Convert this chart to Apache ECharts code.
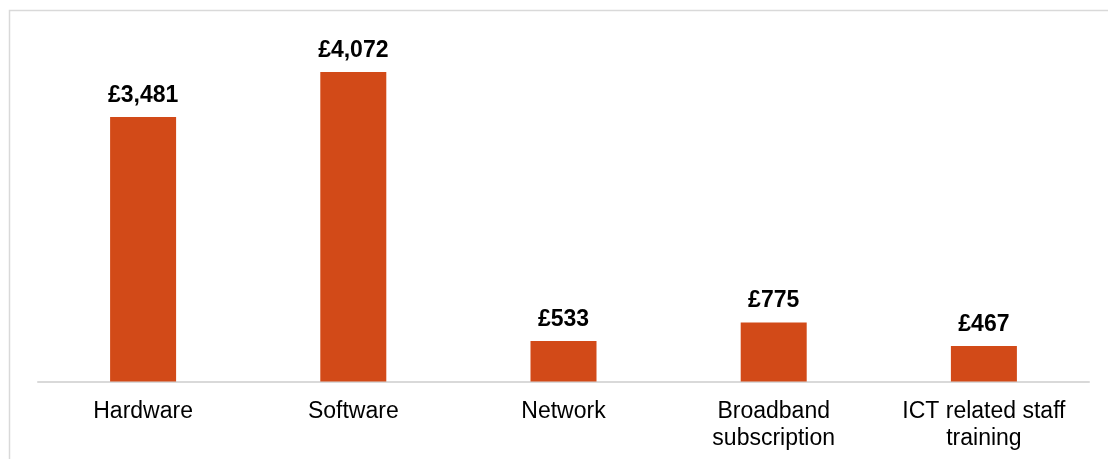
<!DOCTYPE html>
<html>
<head>
<meta charset="utf-8">
<script src="https://cdn.jsdelivr.net/npm/echarts@6/dist/echarts.min.js"></script>
<style>
  * { margin: 0; padding: 0; }
  body { background: #fff; }
  #chart { width: 1108px; height: 459px; }
</style>
</head>
<body>
<div id="chart"></div>
<script>
// categories and spend values (£)
var categories = ['Hardware', 'Software', 'Network', 'Broadband\nsubscription', 'ICT related staff\ntraining'];
var spend = [3481, 4072, 533, 775, 467];

var chart = echarts.init(document.getElementById('chart'));

chart.setOption({
  animation: false,
  backgroundColor: '#fff',
  // light frame round the chart area (only top and left show)
  graphic: [{
    type: 'rect',
    shape: { x: 9.5, y: 10.5, width: 1200, height: 600 },
    style: { fill: 'none', stroke: '#d9d9d9', lineWidth: 1.5 },
    silent: true
  }],
  grid: { left: 38, right: 19, top: 1.5, bottom: 77.5, containLabel: false },
  xAxis: {
    type: 'category',
    data: categories,
    axisLine: { lineStyle: { color: '#d9d9d9', width: 2 } },
    axisTick: { show: false },
    axisLabel: {
      interval: 0,
      color: '#000',
      fontFamily: 'Liberation Sans, Arial, sans-serif',
      fontSize: 23,
      lineHeight: 27,
      margin: 17
    }
  },
  yAxis: {
    type: 'value',
    min: 0,
    max: 5000,
    show: false,
    splitLine: { show: false }
  },
  series: [{
    type: 'bar',
    data: spend,
    barWidth: 66,
    itemStyle: { color: '#d24a18' },
    label: {
      show: true,
      position: 'top',
      distance: 10,
      color: '#000',
      fontWeight: 'bold',
      fontFamily: 'Liberation Sans, Arial, sans-serif',
      fontSize: 23,
      formatter: function (p) {
        return '£' + p.value.toLocaleString('en-GB');
      }
    }
  }]
});
</script>
</body>
</html>
